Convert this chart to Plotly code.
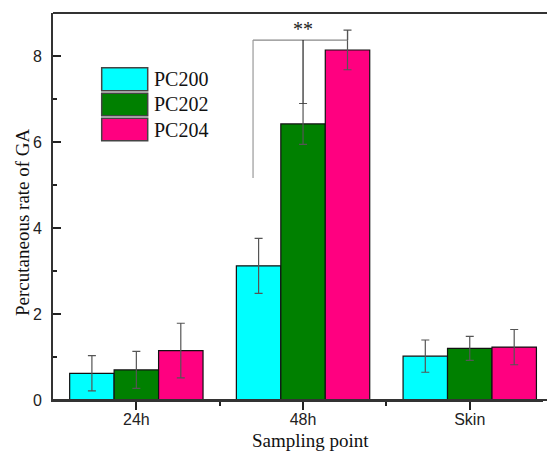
import plotly.graph_objects as go

categories = ["24h", "48h", "Skin"]
x_pos = [0, 1, 2]
series_names = ["PC200", "PC202", "PC204"]
colors = ["#00FFFF", "#008000", "#FF0080"]
pc200 = [0.62, 3.12, 1.02]
pc202 = [0.70, 6.42, 1.20]
pc204 = [1.15, 8.14, 1.23]
pc200_err = [0.41, 0.64, 0.375]
pc202_err = [0.43, 0.475, 0.28]
pc204_err = [0.635, 0.46, 0.41]

sig_label = "**"
sig_y = 8.37
sig_left_x = 0.70
sig_left_bottom = 5.16
sig_mid_x = 1.0
sig_right_x = 1.267
sig_label_y = 8.62

W, H = 547, 452
L, R, T, B = 53, 4, 13, 52
pw = W - L - R
ph = H - T - B
unit_px = 166.7

def px(x):
    return (x - L) / pw

def py(y):
    return (H - B - y) / ph

fig = go.Figure()
for name, vals, errs, col in zip(series_names, [pc200, pc202, pc204],
                                 [pc200_err, pc202_err, pc204_err], colors):
    fig.add_trace(go.Bar(
        x=x_pos, y=vals, name=name, marker_color=col,
        marker_line=dict(color="#111111", width=1.2),
        error_y=dict(type="data", array=errs, visible=True,
                     color="#555555", thickness=1.2, width=4),
        showlegend=False,
    ))

shapes = []
# top and bottom frame lines running to the image edge
shapes.append(dict(type="line", xref="paper", yref="paper", x0=0, x1=px(W + 5), y0=1, y1=1,
                   line=dict(color="#333333", width=2)))
shapes.append(dict(type="line", xref="paper", yref="paper", x0=0, x1=px(W + 5), y0=0, y1=0,
                   line=dict(color="#333333", width=2)))
shapes.append(dict(type="line", xref="x", yref="y", x0=sig_left_x, x1=sig_right_x,
                   y0=sig_y, y1=sig_y, line=dict(color="#888888", width=1.2)))
shapes.append(dict(type="line", xref="x", yref="y", x0=sig_left_x, x1=sig_left_x,
                   y0=sig_left_bottom, y1=sig_y, line=dict(color="#999999", width=1.2)))
shapes.append(dict(type="line", xref="x", yref="y", x0=sig_mid_x, x1=sig_mid_x,
                   y0=pc202[1] + pc202_err[1], y1=sig_y, line=dict(color="#222222", width=1.2)))
shapes.append(dict(type="line", xref="x", yref="y", x0=sig_right_x, x1=sig_right_x,
                   y0=pc204[1] + pc204_err[1], y1=sig_y, line=dict(color="#555555", width=1.2)))

leg_rows = [(67.7, 90.7), (93.3, 115.7), (118.3, 140.7)]
annotations = []
for (y0, y1), name, col in zip(leg_rows, series_names, colors):
    shapes.append(dict(type="rect", xref="paper", yref="paper",
                       x0=px(101.7), x1=px(147.7), y0=py(y1), y1=py(y0),
                       fillcolor=col, line=dict(color="#444444", width=1.5)))
    annotations.append(dict(text=name, xref="paper", yref="paper",
                            x=px(152), y=py((y0 + y1) / 2), xanchor="left", yanchor="middle",
                            showarrow=False,
                            font=dict(family="Liberation Serif", size=20, color="#111111")))

annotations.append(dict(text=sig_label, xref="x", yref="y", x=sig_mid_x, y=sig_label_y,
                        showarrow=False, xanchor="center", yanchor="middle",
                        font=dict(family="Liberation Serif", size=20, color="#222222")))
annotations.append(dict(text="Percutaneous rate of GA", xref="paper", yref="paper",
                        x=px(22), y=py(222), textangle=-90, showarrow=False,
                        xanchor="center", yanchor="middle",
                        font=dict(family="Liberation Serif", size=19, color="#111111")))
annotations.append(dict(text="Sampling point", xref="paper", yref="paper",
                        x=px(310), y=py(440), showarrow=False,
                        xanchor="center", yanchor="middle",
                        font=dict(family="Liberation Serif", size=19, color="#111111")))

fig.update_layout(
    width=W, height=H,
    margin=dict(l=L, r=R, t=T, b=B, pad=0),
    paper_bgcolor="white", plot_bgcolor="white",
    barmode="group", bargap=0.2, bargroupgap=0,
    shapes=shapes, annotations=annotations,
    showlegend=False,
    xaxis=dict(range=[-0.5, -0.5 + pw / unit_px], tickvals=x_pos, ticktext=categories,
               ticks="outside", ticklen=8, tickwidth=1.5, tickcolor="#222222",
               showline=True, linecolor="#333333", linewidth=2, mirror=False,
               showgrid=False, zeroline=False, ticklabelstandoff=-4,
               tickfont=dict(family="Liberation Sans", size=16, color="#222222"),
               minor=dict(tickvals=[0.5, 1.5], ticks="outside", ticklen=4,
                          tickwidth=1.5, tickcolor="#222222")),
    yaxis=dict(range=[0, 9], tickvals=[0, 2, 4, 6, 8],
               ticks="inside", ticklen=8, tickwidth=1.5, tickcolor="#222222",
               showline=True, linecolor="#333333", linewidth=2, mirror=False,
               showgrid=False, zeroline=False, ticklabelstandoff=6,
               tickfont=dict(family="Liberation Sans", size=16, color="#222222"),
               minor=dict(tickvals=[1, 3, 5, 7], ticks="inside", ticklen=4,
                          tickwidth=1.5, tickcolor="#222222")),
)

fig.write_html("out.html", config={"displayModeBar": False},
               post_script="document.body.style.margin='0';")
